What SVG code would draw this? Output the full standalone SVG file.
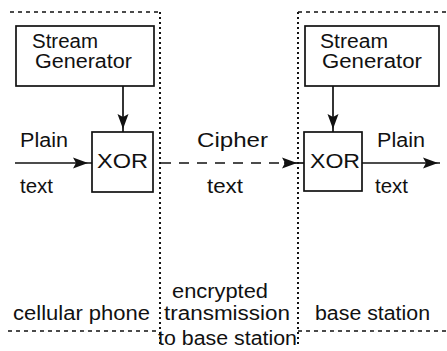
<svg xmlns="http://www.w3.org/2000/svg" xmlns:xlink="http://www.w3.org/1999/xlink" width="447" height="351" viewBox="0 0 447 351">
<style>
text{font-family:"Liberation Sans",Arial,sans-serif;font-size:20px;fill:#111}
.box{fill:#fff;stroke:#111;stroke-width:1.7}
.ln{stroke:#111;stroke-width:1.7;fill:none}
.dash{stroke:#111;stroke-width:1.6;stroke-dasharray:4 4;fill:none}
.dot{stroke:#111;stroke-width:2;stroke-dasharray:2 3;fill:none}
.cd{stroke:#111;stroke-width:1.7;stroke-dasharray:10 8;fill:none}
</style>
<defs>
<path id="ah" d="M-15,-5.5 L-12,0 L-15,5.5 L0,0 Z" fill="#111"/>
</defs>
<rect width="447" height="351" fill="#fff"/>
<g id="frame">
<path class="dash" d="M10,12 H160"/>
<path class="dash" d="M298,12 H447"/>
<path class="dash" d="M8,331 H160"/>
<path class="dash" d="M298,331 H447"/>
<path class="dot" d="M160,12 V346"/>
<path class="dot" d="M298,12 V346"/>
</g>
<g id="gen1">
<rect class="box" x="16" y="26" width="138" height="60"/>
<text x="32" y="48" textLength="66" lengthAdjust="spacingAndGlyphs">Stream</text>
<text x="35" y="68" textLength="97" lengthAdjust="spacingAndGlyphs">Generator</text>
</g>
<g id="xor1">
<rect class="box" x="92" y="132" width="61" height="60"/>
<text x="97" y="168" textLength="51" lengthAdjust="spacingAndGlyphs">XOR</text>
</g>
<g id="gen2">
<rect class="box" x="305" y="26" width="134" height="60"/>
<text x="320" y="48" textLength="68" lengthAdjust="spacingAndGlyphs">Stream</text>
<text x="322" y="68" textLength="100" lengthAdjust="spacingAndGlyphs">Generator</text>
</g>
<g id="xor2">
<rect class="box" x="304" y="132" width="58" height="59"/>
<text x="310" y="168" textLength="50" lengthAdjust="spacingAndGlyphs">XOR</text>
</g>
<g id="connectors">
<path class="ln" d="M123,86 V132"/>
<use xlink:href="#ah" transform="translate(123,129) rotate(90)"/>
<path class="ln" d="M333,86 V132"/>
<use xlink:href="#ah" transform="translate(333,129) rotate(90)"/>
<path class="ln" d="M15,163 H92"/>
<use xlink:href="#ah" transform="translate(88,163)"/>
<path class="cd" d="M161,163 H284"/>
<path class="ln" d="M284,163 H304"/>
<use xlink:href="#ah" transform="translate(297,163)"/>
<path class="ln" d="M362,163 H440"/>
<use xlink:href="#ah" transform="translate(438,163)"/>
</g>
<g id="labels">
<text x="20" y="147" textLength="48" lengthAdjust="spacingAndGlyphs">Plain</text>
<text x="20" y="193" textLength="33" lengthAdjust="spacingAndGlyphs">text</text>
<text x="197" y="147" textLength="71" lengthAdjust="spacingAndGlyphs">Cipher</text>
<text x="207" y="193" textLength="36" lengthAdjust="spacingAndGlyphs">text</text>
<text x="377" y="147" textLength="48" lengthAdjust="spacingAndGlyphs">Plain</text>
<text x="375" y="193" textLength="33" lengthAdjust="spacingAndGlyphs">text</text>
<text x="13" y="320" textLength="137" lengthAdjust="spacingAndGlyphs">cellular phone</text>
<text x="172" y="298" textLength="96" lengthAdjust="spacingAndGlyphs">encrypted</text>
<text x="164" y="320" textLength="126" lengthAdjust="spacingAndGlyphs">transmission</text>
<text x="158" y="345" textLength="139" lengthAdjust="spacingAndGlyphs">to base station</text>
<text x="315" y="320" textLength="115" lengthAdjust="spacingAndGlyphs">base station</text>
</g>
</svg>
